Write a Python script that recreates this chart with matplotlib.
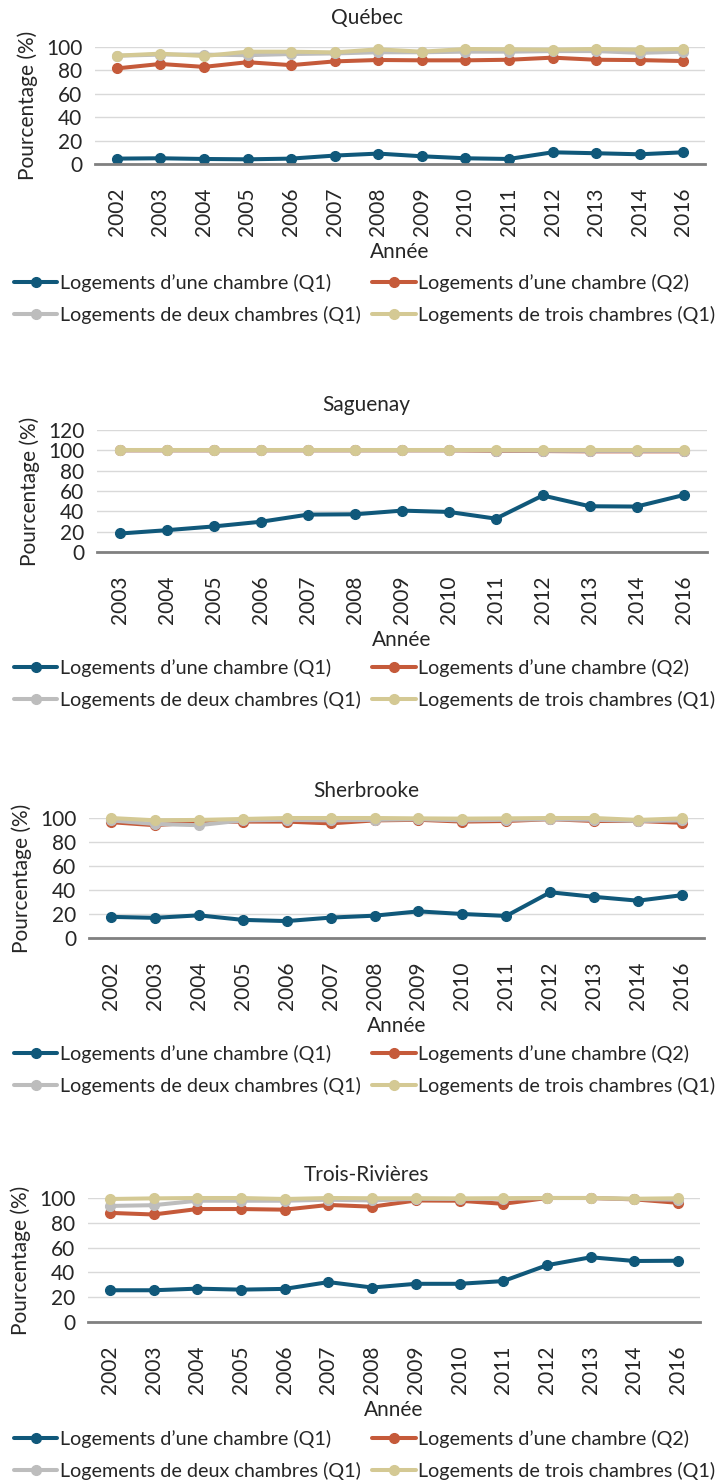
import numpy as np
import matplotlib
matplotlib.use("Agg")
import matplotlib.pyplot as plt

plt.rcParams['font.family'] = ['Lato', 'DejaVu Sans']

# ---- data -------------------------------------------------------------
years_a = ['2002', '2003', '2004', '2005', '2006', '2007', '2008',
           '2009', '2010', '2011', '2012', '2013', '2014', '2016']
years_b = years_a[1:]

# Québec
qc_one_q1 = [4.6, 4.9, 4.3, 4.0, 4.6, 7.2, 8.9, 6.6, 4.9, 4.3, 10.0, 9.2, 8.3, 10.0]
qc_one_q2 = [81.7, 85.5, 83.0, 87.0, 84.5, 87.7, 88.9, 88.6, 88.6, 89.1, 90.9, 89.1, 88.8, 88.0]
qc_two_q1 = [92.5, 93.5, 93.5, 93.0, 94.0, 94.5, 95.5, 95.5, 96.0, 96.0, 96.5, 96.5, 95.0, 96.0]
qc_three_q1 = [92.6, 94.3, 92.3, 96.0, 96.0, 95.4, 98.0, 96.0, 98.3, 98.0, 97.7, 98.3, 97.7, 98.3]

# Saguenay
sag_one_q1 = [18.2, 21.5, 25.2, 29.8, 36.8, 37.1, 40.7, 39.4, 32.8, 55.6, 45.0, 44.7, 56.0]
sag_one_q2 = [100, 100, 100, 100, 100, 100, 100, 100, 99.5, 99.3, 99.0, 99.0, 99.0]
sag_two_q1 = [100, 100, 100, 100, 100, 100, 100, 100, 99.8, 99.6, 99.5, 99.5, 99.5]
sag_three_q1 = [100, 100, 100, 100, 100, 100, 100, 100, 100, 100, 100, 100, 100]

# Sherbrooke
sh_one_q1 = [17.6, 16.8, 18.9, 15.1, 14.1, 17.0, 18.6, 22.2, 20.0, 18.4, 38.1, 34.3, 31.1, 35.7]
sh_one_q2 = [96.5, 94.0, 96.5, 97.0, 97.0, 95.5, 98.0, 98.5, 97.0, 97.5, 99.0, 97.5, 97.5, 96.0]
sh_two_q1 = [98.0, 95.0, 94.0, 98.0, 98.5, 98.0, 98.5, 99.0, 98.0, 98.5, 99.0, 98.5, 97.5, 98.0]
sh_three_q1 = [100, 98.1, 98.4, 99.2, 100, 100, 100, 99.7, 99.5, 99.7, 100, 100, 98.4, 99.7]

# Trois-Rivières
tr_one_q1 = [25.6, 25.6, 26.9, 26.1, 26.7, 32.2, 27.8, 30.8, 30.8, 33.0, 45.8, 52.2, 49.2, 49.4]
tr_one_q2 = [88.0, 86.7, 91.1, 91.1, 90.6, 94.4, 93.0, 98.0, 97.8, 95.3, 100, 100, 98.9, 96.1]
tr_two_q1 = [93.6, 94.2, 97.8, 97.8, 97.8, 98.6, 98.0, 99.4, 99.2, 99.4, 100, 100, 99.2, 98.6]
tr_three_q1 = [99.2, 99.7, 100, 100, 99.2, 100, 99.8, 99.8, 99.7, 99.8, 100, 100, 99.4, 99.8]

series_labels = ["Logements d\u2019une chambre (Q1)", "Logements d\u2019une chambre (Q2)",
                 "Logements de deux chambres (Q1)", "Logements de trois chambres (Q1)"]
colors = ['#10587A', '#C55A3A', '#BDBDBD', '#D4C994']

panels = [
    ("Québec", years_a, [qc_one_q1, qc_one_q2, qc_two_q1, qc_three_q1], 100),
    ("Saguenay", years_b, [sag_one_q1, sag_one_q2, sag_two_q1, sag_three_q1], 120),
    ("Sherbrooke", years_a, [sh_one_q1, sh_one_q2, sh_two_q1, sh_three_q1], 100),
    ("Trois-Rivières", years_a, [tr_one_q1, tr_one_q2, tr_two_q1, tr_three_q1], 100),
]

# axes boxes in pixels (left, right, top, bottom) and legend row y
W, H = 719, 1483
boxes = [(95, 705, 47, 164), (97, 707, 430, 552), (89, 704, 818, 938), (88, 700, 1198, 1322)]
legend_y = [299, 684, 1070, 1455]
title_y = [18, 405, 791, 1175]

fig = plt.figure(figsize=(W / 100, H / 100), dpi=100)

for (name, years, data, ymax), (l, r, t, b), ly, ty in zip(panels, boxes, legend_y, title_y):
    ax = fig.add_axes([l / W, 1 - b / H, (r - l) / W, (b - t) / H])
    x = np.arange(len(years))
    lines = []
    for vals, col, lab in zip(data, colors, series_labels):
        ln, = ax.plot(x, vals, color=col, lw=2.9, marker='o', ms=7, label=lab,
                      solid_capstyle='round', clip_on=False)
        lines.append(ln)
    ax.set_xlim(-0.5, len(years) - 0.5)
    ax.set_ylim(0, ymax)
    ax.set_yticks(np.arange(0, ymax + 1, 20))
    ax.set_xticks(x)
    ax.set_xticklabels(years, rotation=90)
    ax.tick_params(length=0, labelsize=15, colors='#262626')
    ax.tick_params(axis='y', pad=9)
    ax.tick_params(axis='x', pad=17)
    ax.grid(axis='y', color='#D9D9D9', lw=1)
    ax.set_axisbelow(True)
    for s in ['top', 'right', 'left']:
        ax.spines[s].set_visible(False)
    ax.spines['bottom'].set_color('#808080')
    ax.spines['bottom'].set_linewidth(2)
    ax.set_ylabel('Pourcentage (%)', fontsize=15, color='#262626', labelpad=6)
    ax.set_xlabel('Année', fontsize=15, color='#262626', labelpad=4)
    fig.text(0.51, 1 - ty / H, name, ha='center', va='center', fontsize=15, color='#262626')
    handles = [lines[0], lines[2], lines[1], lines[3]]
    fig.legend(handles, [h.get_label() for h in handles], ncol=2, loc='center',
               bbox_to_anchor=(0.507, 1 - ly / H), frameon=False, fontsize=14.2,
               handlelength=2.2, handletextpad=0.12, columnspacing=0.6,
               labelspacing=0.7, borderpad=0, labelcolor='#262626')

plt.savefig('out.png', dpi=100)
